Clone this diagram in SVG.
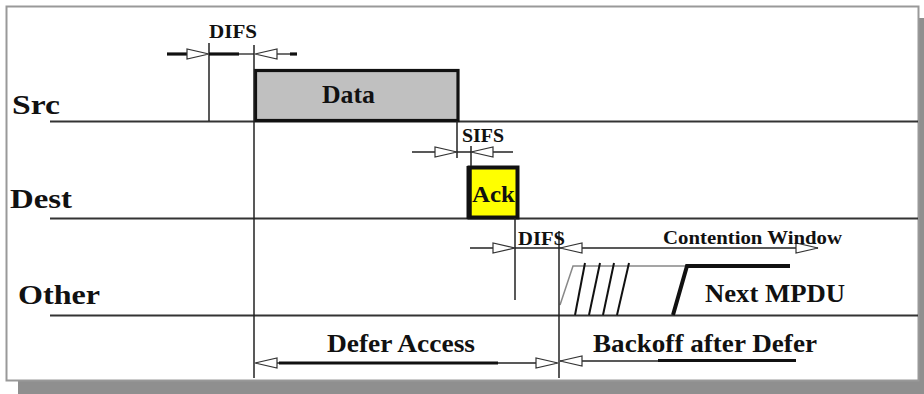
<svg xmlns="http://www.w3.org/2000/svg" xmlns:xlink="http://www.w3.org/1999/xlink" width="924" height="394" viewBox="0 0 924 394">
<style>
.t{font-family:"Liberation Serif","Times New Roman",serif;font-weight:bold;fill:#111}
.lane{stroke:#333;stroke-width:2;fill:none}
.v{stroke:#222;stroke-width:1.5;fill:none}
.h{stroke:#222;stroke-width:1.3;fill:none}
.hk{stroke:#111;stroke-width:3.2;fill:none}
.ah{fill:#fff;stroke:#333;stroke-width:1.2}
</style>
<defs>
<polygon id="ar" class="ah" points="0,0 -22,-5 -22,5"/>
</defs>
<g id="frame">
<rect x="18" y="381" width="906" height="13" fill="#8f8f8f"/>
<rect x="919" y="18" width="5" height="376" fill="#8f8f8f"/>
<rect x="6.5" y="6.5" width="912" height="374" fill="#fff" stroke="#999" stroke-width="2"/>
</g>
<g id="lanes">
<line class="lane" x1="50" y1="121.5" x2="918" y2="121.5"/>
<line class="lane" x1="50" y1="218.5" x2="918" y2="218.5"/>
<line class="lane" x1="50" y1="315.5" x2="918" y2="315.5"/>
<text class="t" x="12" y="114" font-size="28" textLength="48" lengthAdjust="spacingAndGlyphs">Src</text>
<text class="t" x="10" y="208" font-size="28" textLength="62" lengthAdjust="spacingAndGlyphs">Dest</text>
<text class="t" x="18" y="304" font-size="28" textLength="82" lengthAdjust="spacingAndGlyphs">Other</text>
</g>
<g id="data">
<rect x="255.5" y="70.5" width="202.5" height="50" fill="#c0c0c0" stroke="#111" stroke-width="3.2"/>
<text class="t" x="322" y="103" font-size="25" textLength="53" lengthAdjust="spacingAndGlyphs">Data</text>
</g>
<g id="ack">
<rect x="469.5" y="167.5" width="48" height="50" fill="#ffff00"/>
<text class="t" x="472" y="202" font-size="24" textLength="43" lengthAdjust="spacingAndGlyphs">Ack</text>
<rect x="469.5" y="167.5" width="48" height="50" fill="none" stroke="#111" stroke-width="4"/>
<line x1="469" y1="166" x2="469" y2="219" stroke="#111" stroke-width="5"/>
</g>
<g id="next-mpdu">
<polyline points="560,305 573,266 687,266" fill="none" stroke="#888" stroke-width="1.5"/>
<g stroke="#111" stroke-width="2">
<line x1="575" y1="315" x2="585" y2="263"/>
<line x1="589" y1="315" x2="600" y2="263"/>
<line x1="603" y1="315" x2="614" y2="263"/>
<line x1="617" y1="315" x2="629" y2="263"/>
</g>
<polyline points="673,315 687,266 790,266" fill="none" stroke="#111" stroke-width="4"/>
<text class="t" x="705" y="302" font-size="26" textLength="140" lengthAdjust="spacingAndGlyphs">Next MPDU</text>
</g>
<g id="connectors">
<line class="v" x1="209" y1="43" x2="209" y2="121"/>
<line class="v" x1="254" y1="45" x2="254" y2="378"/>
<line class="v" x1="457" y1="121" x2="457" y2="158"/>
<line class="v" x1="471" y1="146" x2="471" y2="166"/>
<line class="v" x1="515" y1="218" x2="515" y2="300"/>
<line class="v" x1="559" y1="231" x2="559" y2="378"/>
<line class="hk" x1="167" y1="54" x2="188" y2="54"/>
<line class="hk" x1="209" y1="54" x2="239" y2="54"/>
<line class="h" x1="239" y1="54" x2="254" y2="54"/>
<line class="h" x1="276" y1="54" x2="291" y2="54"/>
<line class="hk" x1="290" y1="54" x2="297" y2="54"/>
<use xlink:href="#ar" transform="translate(209,54)"/>
<use xlink:href="#ar" transform="translate(255,54) scale(-1,1)"/>
<text class="t" x="209" y="38" font-size="19" textLength="48" lengthAdjust="spacingAndGlyphs">DIFS</text>
<line class="h" x1="412" y1="152" x2="513" y2="152"/>
<use xlink:href="#ar" transform="translate(457,152)"/>
<use xlink:href="#ar" transform="translate(471,152) scale(-1,1)"/>
<text class="t" x="462" y="142" font-size="18" textLength="42" lengthAdjust="spacingAndGlyphs">SIFS</text>
<line class="h" x1="470" y1="248" x2="818" y2="248"/>
<use xlink:href="#ar" transform="translate(515,248)"/>
<use xlink:href="#ar" transform="translate(560,248) scale(-1,1)"/>
<use xlink:href="#ar" transform="translate(818,248)"/>
<text class="t" x="518" y="245" font-size="18" textLength="47" lengthAdjust="spacingAndGlyphs">DIFS</text>
<text class="t" x="663" y="244" font-size="18" textLength="179" lengthAdjust="spacingAndGlyphs">Contention Window</text>
<line class="h" x1="256" y1="363" x2="557" y2="363"/>
<line class="hk" x1="279" y1="363" x2="498" y2="363"/>
<use xlink:href="#ar" transform="translate(255,363) scale(-1,1)"/>
<use xlink:href="#ar" transform="translate(558,363)"/>
<line class="h" x1="560" y1="361" x2="658" y2="361"/>
<line class="hk" x1="658" y1="360.5" x2="796" y2="360.5"/>
<use xlink:href="#ar" transform="translate(560,361) scale(-1,1)"/>
<text class="t" x="327" y="352" font-size="25" textLength="148" lengthAdjust="spacingAndGlyphs">Defer Access</text>
<text class="t" x="593" y="352" font-size="25" textLength="224" lengthAdjust="spacingAndGlyphs">Backoff after Defer</text>
</g>
</svg>
